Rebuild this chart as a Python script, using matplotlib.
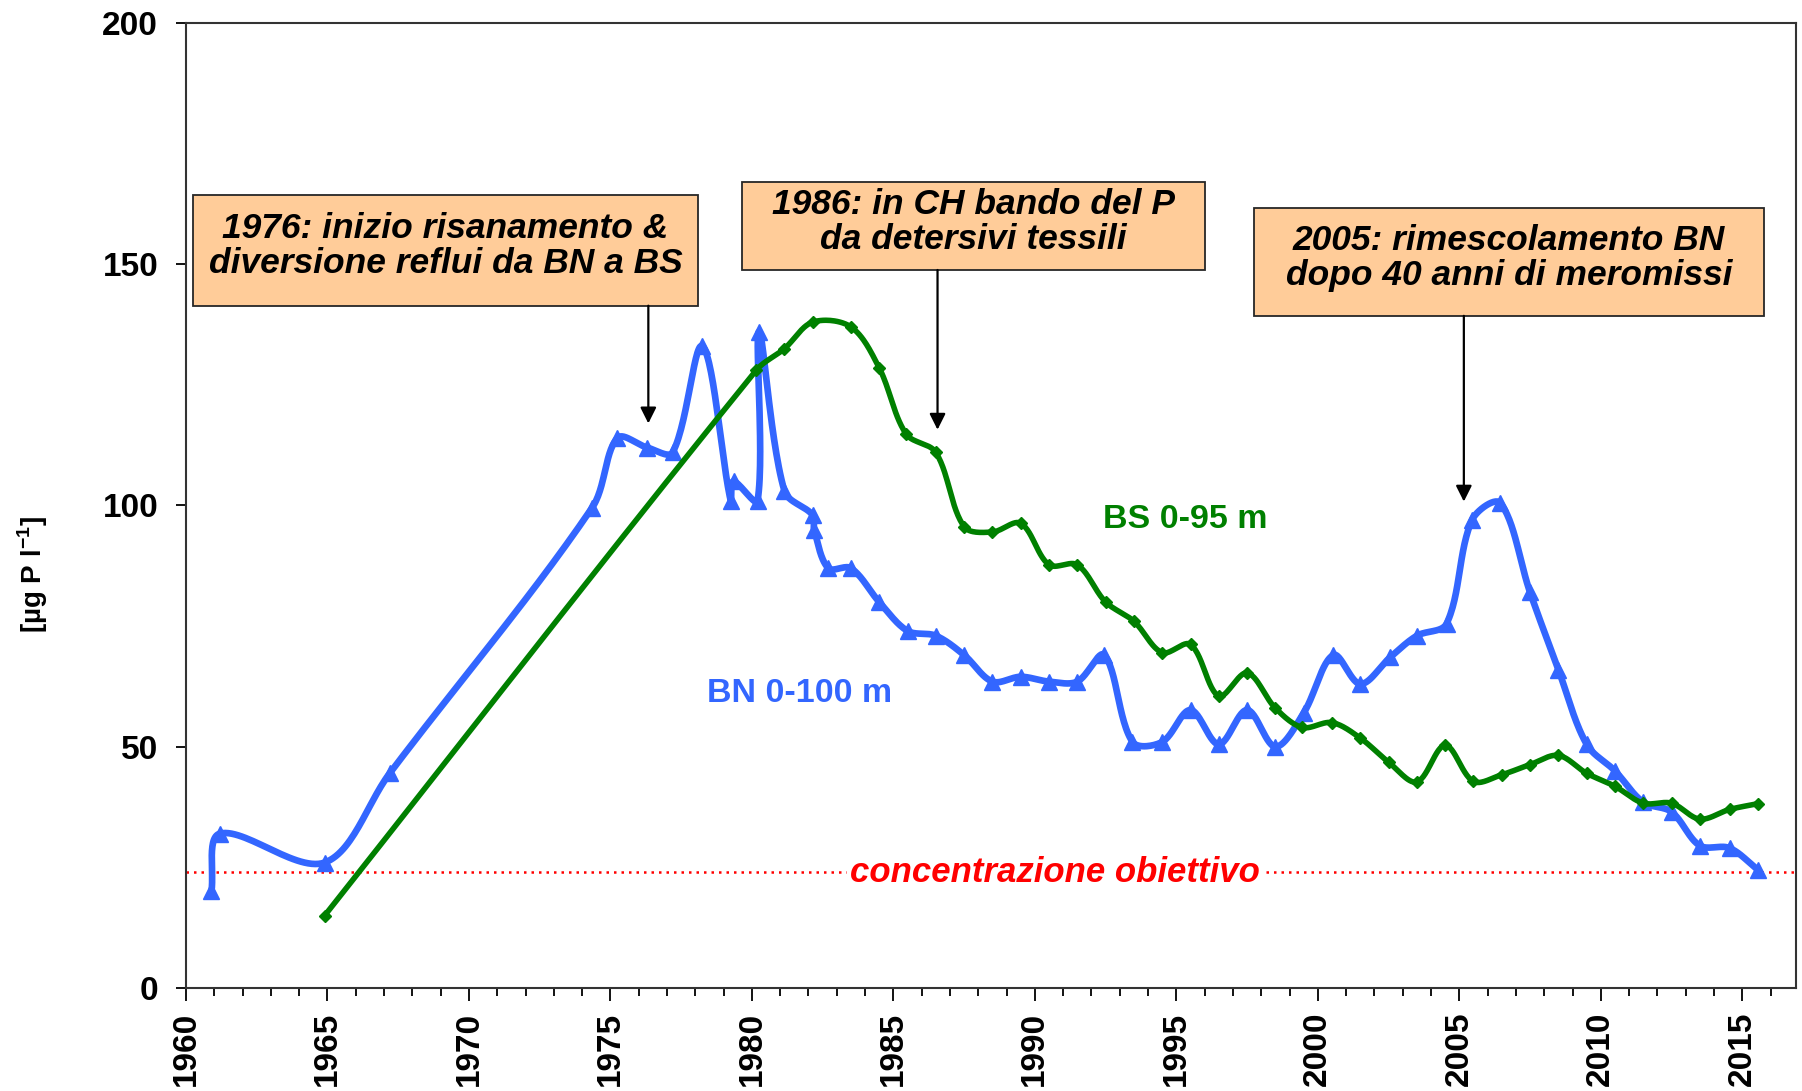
import numpy as np
import matplotlib
matplotlib.use("Agg")
import matplotlib.pyplot as plt
from matplotlib.patches import Rectangle

plt.rcParams['font.family'] = ['Liberation Sans', 'DejaVu Sans']
plt.rcParams['mathtext.fontset'] = 'custom'
plt.rcParams['mathtext.rm'] = 'Liberation Sans'
plt.rcParams['mathtext.bf'] = 'Liberation Sans:bold'

# BN 0-100 m (Bacino Nord)
bn_anni = [1960.9, 1961.2, 1964.9, 1967.2, 1974.35, 1975.25, 1976.3, 1977.2, 1978.25,
           1979.25, 1979.35, 1980.2, 1980.25, 1981.15, 1982.15, 1982.2, 1982.7, 1983.5,
           1984.5, 1985.5, 1986.5, 1987.5, 1988.5, 1989.5, 1990.5, 1991.5, 1992.45,
           1993.45, 1994.5, 1995.5, 1996.5, 1997.5, 1998.5, 1999.5, 2000.55, 2001.5,
           2002.55, 2003.5, 2004.55, 2005.45, 2006.45, 2007.5, 2008.5, 2009.5, 2010.5,
           2011.5, 2012.5, 2013.5, 2014.55, 2015.55]
bn_p = [20, 32, 26, 44.5, 99.5, 114, 112, 111, 133,
        101, 105, 101, 136, 103, 98, 95, 87, 87,
        80, 74, 73, 69, 63.5, 64.5, 63.5, 63.5, 69,
        51, 51, 57.6, 50.5, 57.6, 50, 57, 69, 63,
        68.5, 73, 75.5, 97, 100.5, 82, 66, 50.5, 45,
        38.5, 36.5, 29.5, 29, 24.5]

# BS 0-95 m (Bacino Sud)
bs_anni = [1964.9, 1980.15, 1981.15, 1982.15, 1983.5, 1984.5, 1985.45, 1986.5, 1987.5,
           1988.5, 1989.5, 1990.5, 1991.5, 1992.5, 1993.5, 1994.5, 1995.5, 1996.5,
           1997.5, 1998.5, 1999.45, 2000.5, 2001.5, 2002.5, 2003.5, 2004.5, 2005.5,
           2006.5, 2007.5, 2008.5, 2009.5, 2010.5, 2011.5, 2012.5, 2013.5, 2014.55, 2015.55]
bs_p = [15, 128, 132.5, 138, 137, 128.5, 114.8, 111, 95.6,
        94.5, 96.3, 87.7, 87.7, 80, 76, 69.5, 71.2, 60.5,
        65.3, 58, 54, 55, 51.8, 46.8, 42.7, 50.3, 42.8,
        44.2, 46.3, 48.2, 44.5, 41.8, 38.3, 38.3, 35, 37, 38.2]

obiettivo = 24

# annotazioni: testo, anno della freccia, punta, riquadro (x0, x1, y0, y1)
note_testi = ["1976: inizio risanamento &\ndiversione reflui da BN a BS",
              "1986: in CH bando del P\nda detersivi tessili",
              "2005: rimescolamento BN\ndopo 40 anni di meromissi"]
note_anni = [1976.34, 1986.56, 2005.16]
note_punte = [117, 115.7, 100.8]
note_box = [(1960.24, 1978.1, 141.4, 164.4),
            (1979.66, 1996.0, 148.8, 167.0),
            (1997.74, 2015.77, 139.3, 161.7)]


def smooth(ax, xs, ys, n=30):
    # linea morbida tipo Excel: Bezier cubiche calcolate in pixel,
    # tangenti scalate sulla lunghezza dei segmenti (niente anelli)
    P = ax.transData.transform(np.column_stack([xs, ys]))
    m = len(P)
    T = np.array([P[min(i + 1, m - 1)] - P[max(i - 1, 0)] for i in range(m)])
    d = np.linalg.norm(np.diff(P, axis=0), axis=1)
    t = np.linspace(0, 1, n)[:, None]
    out = []
    for i in range(m - 1):
        p1, p2 = P[i], P[i + 1]
        din = d[i - 1] if i > 0 else 0.0
        dout = d[i + 1] if i + 1 < m - 1 else 0.0
        c1 = p1 + T[i] * d[i] / (din + d[i]) / 3
        c2 = p2 - T[i + 1] * d[i] / (d[i] + dout) / 3
        seg = (1 - t) ** 3 * p1 + 3 * (1 - t) ** 2 * t * c1 + 3 * (1 - t) * t ** 2 * c2 + t ** 3 * p2
        out.append(seg)
    return ax.transData.inverted().transform(np.vstack(out))


fig = plt.figure(figsize=(18.02, 10.91), dpi=100)
ax = fig.add_axes([0.1032, 0.0944, 0.8935, 0.8846])
ax.set_xlim(1960, 2016.9)
ax.set_ylim(0, 200)

blu = '#3366FF'
verde = '#008000'

c = smooth(ax, bn_anni, bn_p)
ax.plot(c[:, 0], c[:, 1], color=blu, lw=4.8, solid_capstyle='round', zorder=3)
ax.plot(bn_anni, bn_p, ls='none', marker='^', ms=12, color=blu, zorder=3)

c = smooth(ax, bs_anni, bs_p)
ax.plot(c[:, 0], c[:, 1], color=verde, lw=4, solid_capstyle='round', zorder=4)
ax.plot(bs_anni, bs_p, ls='none', marker='D', ms=6.5, color=verde, zorder=4)

ax.axhline(obiettivo, color='red', ls=(0, (1, 2)), lw=1.8, zorder=2)
ax.text(1990.7, obiettivo, 'concentrazione obiettivo', color='red', fontsize=25,
        fontweight='bold', fontstyle='italic', ha='center', va='center',
        bbox=dict(facecolor='white', edgecolor='none', pad=2), zorder=2.5)

ax.text(1995.3, 97, 'BS 0-95 m', color=verde, fontsize=24.5, fontweight='bold',
        ha='center', va='center')
ax.text(1981.7, 61, 'BN 0-100 m', color=blu, fontsize=24.5, fontweight='bold',
        ha='center', va='center')

for testo, anno, punta, (x0, x1, y0, y1) in zip(note_testi, note_anni, note_punte, note_box):
    ax.add_patch(Rectangle((x0, y0), x1 - x0, y1 - y0, facecolor='#FFCC99',
                           edgecolor='#262626', lw=1.3, zorder=5))
    ax.text((x0 + x1) / 2, (y0 + y1) / 2 + 0.8, testo, fontsize=25.5, fontweight='bold',
            fontstyle='italic', ha='center', va='center', linespacing=1.08, zorder=6)
    ax.annotate('', xy=(anno, punta), xytext=(anno, y0),
                arrowprops=dict(arrowstyle='-|>', color='black', lw=1.6,
                                mutation_scale=24, shrinkA=0, shrinkB=0), zorder=5)

ax.set_xticks(np.arange(1960, 2016, 5))
ax.set_xticks(np.arange(1960, 2017, 1), minor=True)
ax.set_yticks(np.arange(0, 201, 50))
ax.tick_params(axis='x', which='major', length=9, width=1.3, direction='out',
               labelsize=24, labelrotation=90, pad=8)
ax.tick_params(axis='x', which='minor', length=6, width=1.3, direction='out')
ax.tick_params(axis='y', length=7, width=1.3, direction='out', labelsize=24, pad=13)
for lab in ax.get_xticklabels() + ax.get_yticklabels():
    lab.set_fontweight('bold')
for s in ax.spines.values():
    s.set_linewidth(1.5)
    s.set_color('#333333')

ax.text(-0.095, 0.428, r'[µg P l$^{\mathbf{-1}}$]', transform=ax.transAxes, rotation=90,
        fontsize=20, fontweight='bold', ha='center', va='center')

fig.savefig('out.png', dpi=100)
